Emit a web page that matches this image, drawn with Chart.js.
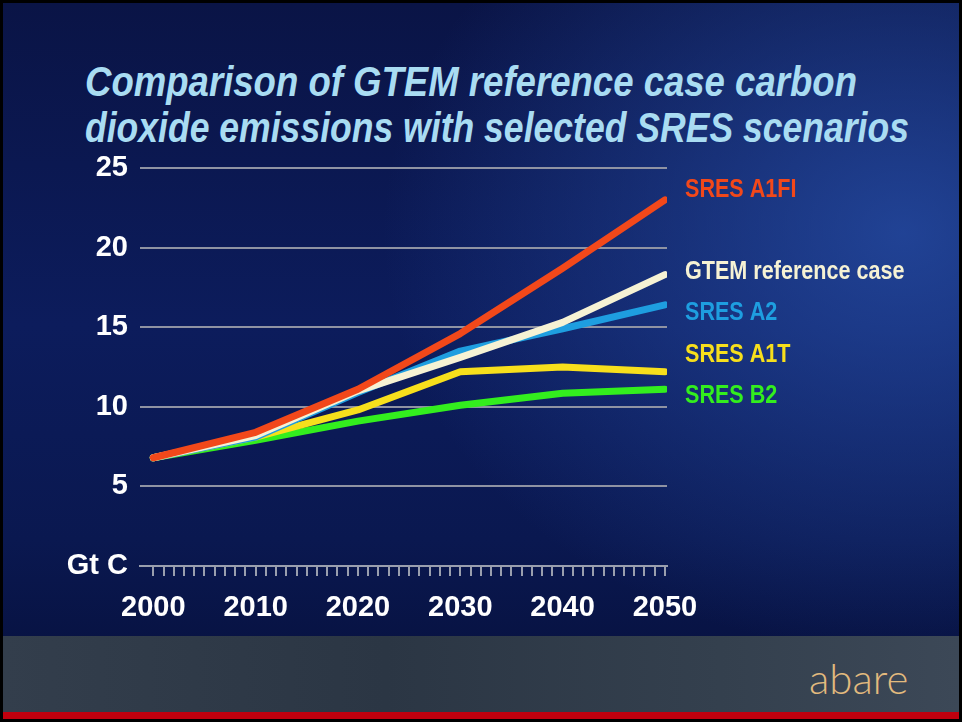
<!DOCTYPE html>
<html>
<head>
<meta charset="utf-8">
<script src="https://cdn.jsdelivr.net/npm/chart.js@4/dist/chart.umd.min.js"></script>
<style>
  html, body { margin: 0; padding: 0; background: #000; }
  body { width: 962px; height: 722px; position: relative; overflow: hidden; }
  #slide {
    position: absolute; left: 3px; top: 3px; width: 956px; height: 716px; overflow: hidden;
    background:
      radial-gradient(ellipse 520px 420px at 900px 230px, rgba(40,80,170,0.75), rgba(20,45,120,0.0) 100%),
      linear-gradient(180deg, #0a1446 0%, #0c1c5c 45%, #0a1850 75%, #060f3a 100%);
  }
  #footer {
    position: absolute; left: 0; top: 633px; width: 956px; height: 76px;
    background: linear-gradient(90deg, #333e4c 0%, #2b3644 40%, #34404e 75%, #3c4857 100%);
  }
  #stripe { position: absolute; left: 0; top: 709px; width: 956px; height: 7px; background: #c0000e; }
  .title {
    position: absolute; left: 82px; white-space: nowrap; transform-origin: 0 0;
    font-family: "Liberation Sans", sans-serif;
    font-weight: bold; font-style: italic; font-size: 43px; color: #a9dcf2; line-height: 1;
  }
  #abare {
    position: absolute; left: 806px; top: 650px; font-family: Lato, "Open Sans", sans-serif;
    font-size: 42px; color: #e2ba7e; font-weight: 300;
  }
  #chart { position: absolute; left: 0; top: 0; }
</style>
</head>
<body>
<div id="slide">
  <div id="footer"></div>
  <div id="stripe"></div>
  <div id="abare">abare</div>
  <div class="title" id="t1" style="top:57px">Comparison of GTEM reference case carbon</div>
  <div class="title" id="t2" style="top:103px">dioxide emissions with selected SRES scenarios</div>
</div>
<canvas id="chart" width="962" height="722"></canvas>
<script>
const years = [2000, 2010, 2020, 2030, 2040, 2050];
const yTicks = [0, 5, 10, 15, 20, 25];
const seriesNames = ['SRES A1FI', 'GTEM reference case', 'SRES A2', 'SRES A1T', 'SRES B2'];
const a1fi = [6.8, 8.4, 11.1, 14.6, 18.7, 23.0];
const gtem = [6.8, 8.2, 11.0, 13.1, 15.3, 18.3];
const a2   = [6.8, 8.1, 10.9, 13.5, 14.9, 16.4];
const a1t  = [6.8, 8.1, 9.8, 12.2, 12.5, 12.2];
const b2   = [6.8, 7.9, 9.1, 10.1, 10.85, 11.1];

const colors = ['#f2481a', '#f6f2d4', '#1e9ee0', '#f7df1c', '#33ee1e'];
const labelY = [190, 272, 313, 355, 396];
const values = [a1fi, gtem, a2, a1t, b2];

// squeeze the title lines to the reference widths (no narrow font installed)
function fitWidth(id, w) {
  const el = document.getElementById(id);
  const cur = el.getBoundingClientRect().width;
  el.style.transform = 'scaleX(' + (w / cur) + ')';
}
fitWidth('t1', 772);
fitWidth('t2', 824);

const tickFont = { family: '"Liberation Sans", sans-serif', size: 29, weight: 'bold' };

const endLabels = {
  id: 'endLabels',
  afterDatasetsDraw(chart) {
    const c = chart.ctx;
    const x = chart.chartArea.right + 18;
    c.save();
    c.font = 'bold 26px "Liberation Sans", sans-serif';
    c.textBaseline = 'middle';
    c.textAlign = 'left';
    seriesNames.forEach((n, i) => {
      c.save();
      c.translate(x, labelY[i]);
      c.scale(0.83, 1);
      c.fillStyle = colors[i];
      c.fillText(n, 0, 0);
      c.restore();
    });
    c.restore();
  }
};

const ctx = document.getElementById('chart');

new Chart(ctx, {
  type: 'line',
  data: {
    datasets: seriesNames.map((n, i) => ({
      label: n,
      data: years.map((y, j) => ({ x: y, y: values[i][j] })),
      borderColor: colors[i],
      borderWidth: 7,
      borderCapStyle: 'round',
      borderJoinStyle: 'round',
      pointRadius: 0,
      tension: 0
    }))
  },
  options: {
    responsive: false,
    animation: false,
    layout: { padding: { left: 0, top: 168, right: 295, bottom: 96 } },
    plugins: { legend: { display: false }, tooltip: { enabled: false } },
    scales: {
      x: {
        type: 'linear',
        min: 1998.7,
        max: 2050.2,
        afterBuildTicks: s => {
          const t = [];
          for (let v = 2000; v <= 2050; v++) t.push({ value: v });
          s.ticks = t;
        },
        afterFit: s => { s.height = 60; },
        border: { display: true, color: '#9a9fae', width: 2 },
        grid: { drawOnChartArea: false, drawTicks: true, tickLength: 10, color: '#9a9fae', lineWidth: 2 },
        ticks: {
          autoSkip: false, maxRotation: 0, padding: 15,
          color: '#ffffff',
          font: tickFont,
          callback: v => (v % 10 === 0 ? String(v) : '')
        }
      },
      y: {
        min: 0,
        max: 25,
        afterBuildTicks: s => { s.ticks = yTicks.map(v => ({ value: v })); },
        afterFit: s => { s.width = 140; },
        border: { display: false },
        grid: { drawTicks: false, color: '#8f93a3', lineWidth: 2 },
        ticks: {
          padding: 12,
          color: '#ffffff',
          font: tickFont,
          callback: v => (v === 0 ? 'Gt C' : String(v))
        }
      }
    }
  },
  plugins: [endLabels]
});
</script>
</body>
</html>
